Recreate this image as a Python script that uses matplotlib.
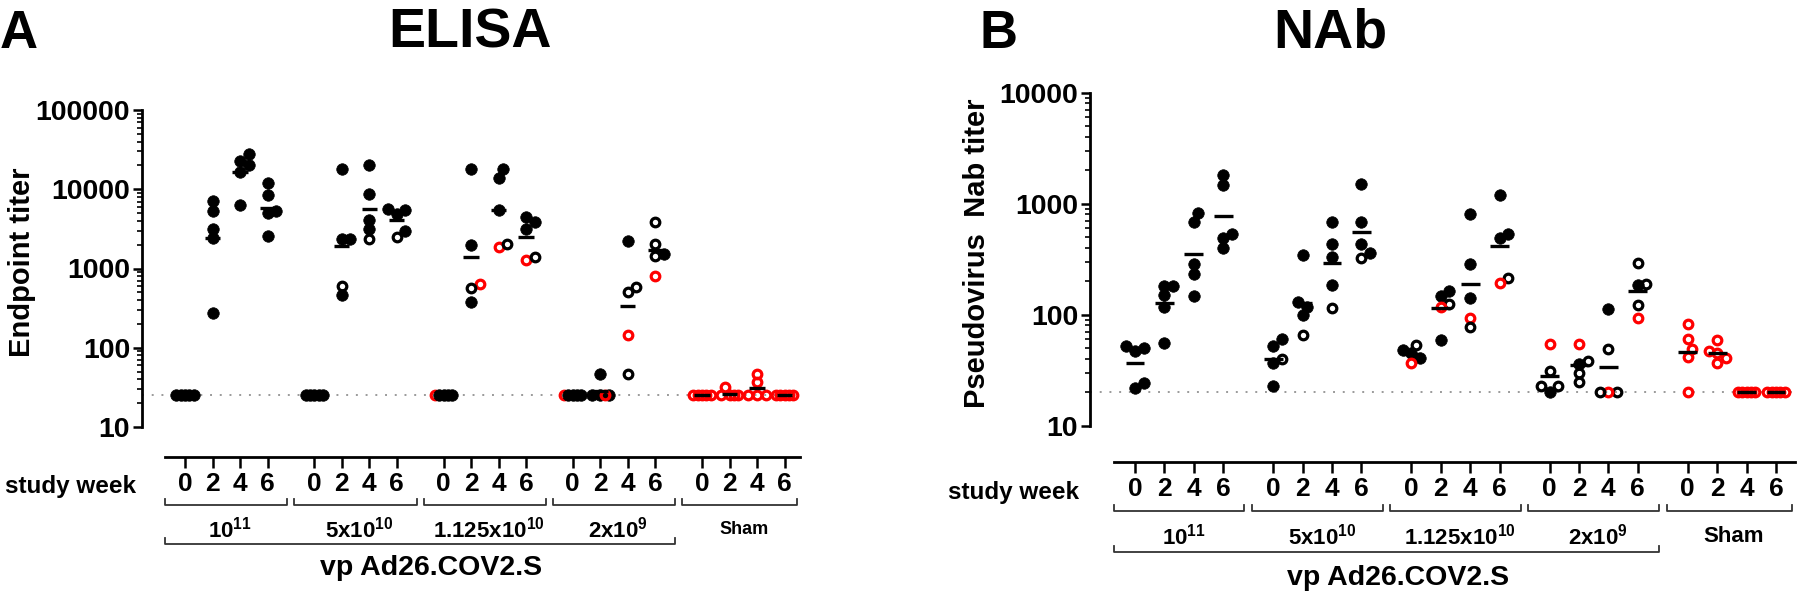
import numpy as np
import matplotlib
matplotlib.use('Agg')
import matplotlib.pyplot as plt
from matplotlib.ticker import LogLocator, FixedLocator, NullFormatter, FuncFormatter

plt.rcParams['font.family'] = ['Liberation Sans', 'DejaVu Sans']
plt.rcParams['font.weight'] = 'bold'
plt.rcParams['mathtext.fontset'] = 'custom'
plt.rcParams['mathtext.rm'] = 'Liberation Sans:bold'
plt.rcParams['mathtext.it'] = 'Liberation Sans:bold'
plt.rcParams['mathtext.bf'] = 'Liberation Sans:bold'

W, H = 1800, 595
RED = '#ff0000'

weeks = ['0', '2', '4', '6']
doses = [r'$10^{11}$', r'$5x10^{10}$', r'$1.125x10^{10}$', r'$2x10^{9}$', 'Sham']

# ELISA endpoint titers, one list per study week (0, 2, 4, 6)
# marker codes: f = filled black, o = open black, r = open red
elisa_1e11 = [[25, 25, 25, 25, 25], [7140, 5330, 3130, 2430, 274],
              [27500, 22900, 19970, 16300, 6410], [12050, 8410, 5290, 5030, 2580]]
elisa_1e11_m = ['fffff', 'fffff', 'fffff', 'fffff']
elisa_5e10 = [[25, 25, 25, 25, 25], [17800, 2340, 2340, 468, 601],
              [19950, 8740, 4150, 3190, 2340], [5440, 5710, 4840, 2950, 2480]]
elisa_5e10_m = ['fffff', 'ffffo', 'ffffo', 'ffffo']
elisa_1125e10 = [[25, 25, 25, 25, 25], [17800, 2000, 644, 568, 381],
                 [17800, 13960, 5440, 1870, 2020], [4530, 3870, 3190, 1295, 1400]]
elisa_1125e10_m = ['ffrff', 'ffrof', 'fffro', 'fffro']
elisa_2e9 = [[25, 25, 25, 25, 25], [46, 25, 25, 25, 25],
             [2210, 505, 584, 143, 46], [3870, 2060, 1510, 1425, 804]]
elisa_2e9_m = ['ffrff', 'ffffr', 'fooro', 'oofor']
elisa_sham = [[25, 25, 25, 25, 25], [31.8, 25, 25, 25, 25],
              [47, 36.7, 25, 25, 25], [25, 25, 25, 25, 25]]
elisa_sham_m = ['rrrrr', 'rrrrr', 'rrrrr', 'rrrrr']
elisa_lod = 25

# pseudovirus neutralizing antibody titers
nab_1e11 = [[52, 50, 47, 22, 24], [182, 182, 151, 118, 56],
            [819, 689, 285, 235, 148], [1795, 1470, 531, 489, 400]]
nab_1e11_m = ['fffff', 'fffff', 'fffff', 'fffff']
nab_5e10 = [[60, 52, 39.5, 37, 23], [346, 118, 129, 100, 65],
            [689, 437, 332, 185, 114], [1513, 684, 437, 356, 321]]
nab_5e10_m = ['ffoff', 'ffffo', 'ffffo', 'ffffo']
nab_1125e10 = [[48, 45, 53, 41, 37], [163, 147, 126, 117, 59],
               [809, 284, 140, 94, 77], [1208, 538, 486, 212, 194]]
nab_1125e10_m = ['ffofr', 'fforf', 'fffro', 'fffor']
nab_2e9 = [[55, 31, 23, 23, 20], [55, 36, 38, 30, 25],
           [112, 49.5, 20, 20, 20], [294, 185, 191, 122, 94]]
nab_2e9_m = ['rooof', 'rfooo', 'fooro', 'ofoor']
nab_sham = [[83, 60, 49, 41.7, 20], [59, 47, 45, 40.6, 37],
            [20, 20, 20, 20, 20], [20, 20, 20, 20, 20]]
nab_sham_m = ['rrrrr', 'rrrrr', 'rrrrr', 'rrrrr']
nab_lod = 20

fig = plt.figure(figsize=(W / 100, H / 100), dpi=100)


def fx(px):
    return px / W


def fy(py):
    return 1 - py / H


GSTEP = 4.7
BR = 0.72   # half width of a group bracket beyond the outer ticks


def swarm(ax, x0, vals, ppu, step=4.3, thr=8.5):
    # simple beeswarm in pixel space, offsets limited to +-2 steps
    ys = ax.transData.transform(np.column_stack([np.zeros(len(vals)), vals]))[:, 1]
    order = np.argsort(ys)
    cands = [0, step, -step, 2 * step, -2 * step]
    placed = []
    xs = np.full(len(vals), float(x0))
    for i in order:
        best, bestd = 0, -1
        for c in cands:
            d = min([np.hypot(c - px, ys[i] - py) for px, py in placed] + [1e9])
            if d >= thr:
                best = c
                break
            if d > bestd:
                best, bestd = c, d
        placed.append((best, ys[i]))
        xs[i] = x0 + best / ppu
    return xs


def panel(box, off, ppu, ylim, groups, marks, lod, ylabel, ylab_x, rows, sham_size, mean_hw):
    left, right, top, bottom = box
    ax = fig.add_axes([fx(left), fy(bottom), fx(right - left), (bottom - top) / H])
    ax.set_yscale('log')
    ax.set_ylim(*ylim)
    xmin = -off / ppu
    xmax = (right - left - off) / ppu
    ax.set_xlim(xmin, xmax)
    for s in ['top', 'right', 'bottom']:
        ax.spines[s].set_visible(False)
    ax.spines['left'].set_linewidth(2)
    ax.set_xticks([])
    ax.yaxis.set_major_locator(LogLocator(base=10, numticks=10))
    ax.yaxis.set_minor_locator(LogLocator(base=10, subs=np.arange(2, 10), numticks=20))
    ax.yaxis.set_major_formatter(FuncFormatter(lambda v, p: '%d' % v))
    ax.yaxis.set_minor_formatter(NullFormatter())
    ax.tick_params(axis='y', which='major', length=6.5, width=1.8, labelsize=20.5, pad=2)
    ax.tick_params(axis='y', which='minor', length=3.5, width=1.2)
    ax.axhline(lod, color='#9a9a9a', lw=1.4, ls=(0, (1, 4)), zorder=1)

    for g, (grp, mk) in enumerate(zip(groups, marks)):
        for k in range(4):
            x0 = g * GSTEP + k
            vals = np.array(grp[k], dtype=float)
            xs = swarm(ax, x0, vals, ppu)
            for xv, yv, c in zip(xs, vals, mk[k]):
                if c == 'f':
                    ax.plot(xv, yv, 'o', ms=8.3, mfc='black', mec='black', mew=0.5, zorder=3)
                else:
                    col = 'black' if c == 'o' else RED
                    ax.plot(xv, yv, 'o', ms=6.2, mfc='none', mec=col, mew=2.3, zorder=3)
            gm = 10 ** np.mean(np.log10(vals))
            ax.plot([x0 - mean_hw, x0 + mean_hw], [gm, gm], color='black', lw=2.4, zorder=4,
                    solid_capstyle='butt')

    fig.text(fx(ylab_x), fy((top + bottom) / 2 - 6), ylabel, rotation=90, ha='center', va='center',
             fontsize=21, fontweight='bold')

    # detached x axis with study weeks
    xline, brack, dose_y, big_y, vp_y, sw_x = rows
    axx = fig.add_axes([fx(left), fy(xline), fx(right - left), 0.0001])
    axx.set_xlim(xmin, xmax)
    axx.set_yticks([])
    for s in ['top', 'right', 'left']:
        axx.spines[s].set_visible(False)
    axx.spines['bottom'].set_linewidth(2)
    axx.spines['bottom'].set_bounds(-BR, xmax)
    axx.patch.set_visible(False)
    pos = [g * GSTEP + k for g in range(len(groups)) for k in range(4)]
    axx.xaxis.set_major_locator(FixedLocator(pos))
    axx.set_xticklabels(weeks * len(groups), fontsize=19, fontweight='bold')
    axx.tick_params(axis='x', length=8, width=1.8, pad=3)
    fig.text(fx(sw_x), fy(xline + 30), 'study week', ha='right', va='center', fontsize=17.5,
             fontweight='bold')

    def to_px(xd):
        return left + off + xd * ppu

    def bracket(x1, x2, yb):
        xa, xb = fx(to_px(x1)), fx(to_px(x2))
        fig.add_artist(plt.Line2D([xa, xa, xb, xb], [fy(yb - 6), fy(yb), fy(yb), fy(yb - 6)],
                                  color='#333333', lw=1.3, transform=fig.transFigure))

    for g in range(len(groups)):
        x1 = g * GSTEP - BR
        x2 = g * GSTEP + 3 + BR
        if g == len(groups) - 1:
            x2 = (right - left - off) / ppu - 0.1
        bracket(x1, x2, brack)
        fs = sham_size if g == len(groups) - 1 else 16
        fig.text(fx(to_px((x1 + x2) / 2 + 0.15)), fy(dose_y), doses[g], ha='center', va='center',
                 fontsize=fs, fontweight='bold')
    bracket(-BR, 3 * GSTEP + 3 + BR, big_y)
    fig.text(fx(to_px((3 * GSTEP + 3) / 2 + 0.4)), fy(vp_y), 'vp Ad26.COV2.S', ha='center',
             va='center', fontsize=20.5, fontweight='bold')
    return ax


panel((142, 800, 110, 427), 43, 27.5, (10, 1e5),
      [elisa_1e11, elisa_5e10, elisa_1125e10, elisa_2e9, elisa_sham],
      [elisa_1e11_m, elisa_5e10_m, elisa_1125e10_m, elisa_2e9_m, elisa_sham_m],
      elisa_lod, 'Endpoint titer', 22, (457, 505, 530, 544, 568, 136), 13, 0.28)

panel((1090, 1795, 92.7, 425.7), 45, 29.4, (10, 1e4),
      [nab_1e11, nab_5e10, nab_1125e10, nab_2e9, nab_sham],
      [nab_1e11_m, nab_5e10_m, nab_1125e10_m, nab_2e9_m, nab_sham_m],
      nab_lod, 'Pseudovirus  Nab titer', 977, (462, 511, 537, 552, 578, 1079), 16, 0.32)

fig.text(fx(470), fy(47), 'ELISA', ha='center', va='baseline', fontsize=40, fontweight='bold')
fig.text(fx(1330), fy(47), 'NAb', ha='center', va='baseline', fontsize=40, fontweight='bold')
fig.text(fx(0), fy(48), 'A', ha='left', va='baseline', fontsize=38, fontweight='bold')
fig.text(fx(980), fy(48), 'B', ha='left', va='baseline', fontsize=38, fontweight='bold')

fig.savefig('out.png', dpi=100)
